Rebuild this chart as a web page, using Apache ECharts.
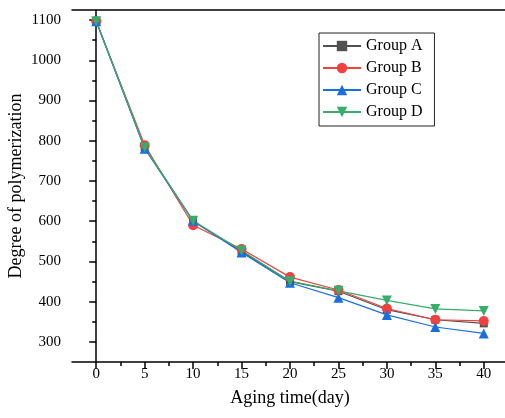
<!DOCTYPE html>
<html>
<head>
<meta charset="utf-8">
<script src="https://cdn.jsdelivr.net/npm/echarts@6/dist/echarts.min.js"></script>
<style>html,body{margin:0;padding:0;background:#fff;}#c{width:505px;height:418px;}</style>
</head>
<body>
<div id="c"></div>
<script>
var days = [0, 5, 10, 15, 20, 25, 30, 35, 40];
var groupA = [1097, 784, 600, 525, 450, 426, 380, 355, 346];
var groupB = [1097, 789, 590, 531, 461, 429, 383, 355, 352];
var groupC = [1097, 780, 601, 522, 447, 410, 367, 337, 321];
var groupD = [1097, 783, 601, 527, 451, 427, 403, 382, 377];
var xTicks = [0, 5, 10, 15, 20, 25, 30, 35, 40];
var xMinorTicks = [2.5, 7.5, 12.5, 17.5, 22.5, 27.5, 32.5, 37.5];
var yTicks = [300, 400, 500, 600, 700, 800, 900, 1000, 1100];
var yMinorTicks = [350, 450, 550, 650, 750, 850, 950, 1050];

var FONT = "'Liberation Serif', 'Times New Roman', serif";
var names = ['Group A', 'Group B', 'Group C', 'Group D'];
var colors = ['#515151', '#F14040', '#1A6FDF', '#37AD6B'];
var symbols = ['rect', 'circle', 'triangle', 'triangle'];
var rotates = [0, 0, 0, 180];
var sizes = [8, 10, 10, 10];
var values = [groupA, groupB, groupC, groupD];

function pairs(v) { return days.map(function (d, i) { return [d, v[i]]; }); }
function plain(v) { return String(v); }

var chart = echarts.init(document.getElementById('c'), null, { renderer: 'canvas' });
var axisLine = { show: true, lineStyle: { color: '#000', width: 1.5 } };
chart.setOption({
  animation: false,
  backgroundColor: '#fff',
  grid: { left: 72, top: 10, right: -3, bottom: 56, containLabel: false, outerBoundsMode: 'none', show: false },
  legend: {
    orient: 'vertical', left: 319, top: 33,
    padding: [5, 12, 6, 3], itemGap: 6, itemWidth: 38, itemHeight: 13,
    borderColor: '#222', borderWidth: 1,
    textStyle: { fontFamily: FONT, fontSize: 16, color: '#000' },
    data: names
  },
  xAxis: [{
    type: 'value', min: -2.5, max: 42.5, position: 'bottom',
    name: 'Aging time(day)', nameLocation: 'middle', nameGap: 27, nameMoveOverlap: false,
    nameTextStyle: { fontFamily: FONT, fontSize: 18, color: '#000' },
    axisLine: axisLine, splitLine: { show: false },
    axisTick: { show: true, inside: false, length: 7, lineStyle: { color: '#000', width: 1.5 }, customValues: xTicks },
    axisLabel: { fontFamily: FONT, fontSize: 15, color: '#000', margin: 5, customValues: xTicks, formatter: plain }
  }, {
    type: 'value', min: -2.5, max: 42.5, position: 'bottom',
    axisLine: { show: false }, splitLine: { show: false },
    axisTick: { show: true, inside: false, length: 4, lineStyle: { color: '#000', width: 1.5 }, customValues: xMinorTicks },
    axisLabel: { show: false }
  }, {
    type: 'value', min: -2.5, max: 42.5, position: 'top',
    axisLine: axisLine, splitLine: { show: false },
    axisTick: { show: false }, axisLabel: { show: false }
  }],
  yAxis: [{
    type: 'value', min: 250, max: 1125, position: 'left',
    name: 'Degree of polymerization', nameLocation: 'middle', nameGap: 47, nameMoveOverlap: false,
    nameTextStyle: { fontFamily: FONT, fontSize: 18, color: '#000' },
    axisLine: axisLine, splitLine: { show: false },
    axisTick: { show: true, inside: false, length: 7, lineStyle: { color: '#000', width: 1.5 }, customValues: yTicks },
    axisLabel: { fontFamily: FONT, fontSize: 15, color: '#000', margin: 11, customValues: yTicks, formatter: plain }
  }, {
    type: 'value', min: 250, max: 1125, position: 'left',
    axisLine: { show: false }, splitLine: { show: false },
    axisTick: { show: true, inside: false, length: 4, lineStyle: { color: '#000', width: 1.5 }, customValues: yMinorTicks },
    axisLabel: { show: false }
  }],
  series: names.map(function (n, i) {
    return {
      name: n, type: 'line', xAxisIndex: 0, yAxisIndex: 0,
      data: pairs(values[i]),
      symbol: symbols[i], symbolSize: sizes[i], symbolRotate: rotates[i],
      showAllSymbol: true,
      lineStyle: { color: colors[i], width: 1.2 },
      itemStyle: { color: colors[i] }
    };
  })
});
</script>
</body>
</html>
